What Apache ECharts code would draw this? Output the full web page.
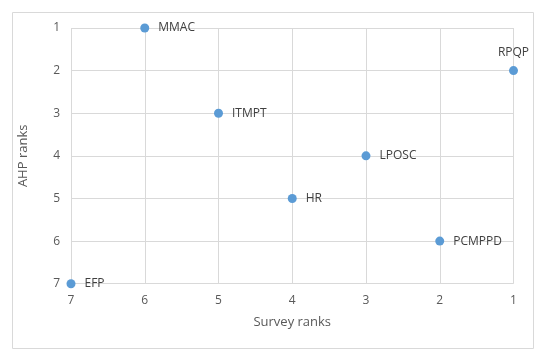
<!DOCTYPE html>
<html><head><meta charset="utf-8">
<script src="https://cdn.jsdelivr.net/npm/echarts@6/dist/echarts.min.js"></script>
<style>html,body{margin:0;padding:0;background:#fff}#c{width:550px;height:356px}</style>
</head><body><div id="c"></div>
<script>
const names = ["MMAC","RPQP","ITMPT","LPOSC","HR","PCMPPD","EFP"];
const surveyRanks = [6,1,5,3,4,2,7];
const ahpRanks = [1,2,3,4,5,6,7];
const labelPos = ["right","top","right","right","right","right","right"];
const xTitle = "Survey ranks";
const yTitle = "AHP ranks";

const font = "'Open Sans', 'Liberation Sans', sans-serif";
const data = names.map((n,i)=>({
  value:[surveyRanks[i], ahpRanks[i]], name:n,
  label:{position:labelPos[i], distance: labelPos[i]==='top'?8:9}
}));
const chart = echarts.init(document.getElementById('c'));
chart.setOption({
  animation:false,
  graphic:[{type:'rect',shape:{x:12.5,y:12.5,width:521,height:336},style:{fill:'none',stroke:'#D9D9D9',lineWidth:1},silent:true}],
  grid:{left:71,right:36.5,top:28,bottom:72.3},
  xAxis:{type:'value',min:1,max:7,interval:1,inverse:true,
    name:xTitle,nameLocation:'middle',nameGap:32,
    nameTextStyle:{color:'#595959',fontSize:13,fontFamily:font},
    axisLine:{show:false},axisTick:{show:false},
    axisLabel:{color:'#595959',fontSize:12,fontFamily:font,margin:11},
    splitLine:{show:true,lineStyle:{color:'#D9D9D9',width:1}}},
  yAxis:{type:'value',min:1,max:7,interval:1,inverse:true,
    name:yTitle,nameLocation:'middle',nameGap:41,nameRotate:90,
    nameTextStyle:{color:'#595959',fontSize:13,fontFamily:font},
    axisLine:{show:false},axisTick:{show:false},
    axisLabel:{color:'#595959',fontSize:12,fontFamily:font,margin:11},
    splitLine:{show:true,lineStyle:{color:'#D9D9D9',width:1}}},
  series:[{type:'scatter',data:data,symbolSize:9,
    itemStyle:{color:'#5B9BD5',opacity:1},
    label:{show:true,formatter:'{b}',color:'#404040',fontSize:12,fontFamily:font}}]
});
</script></body></html>
